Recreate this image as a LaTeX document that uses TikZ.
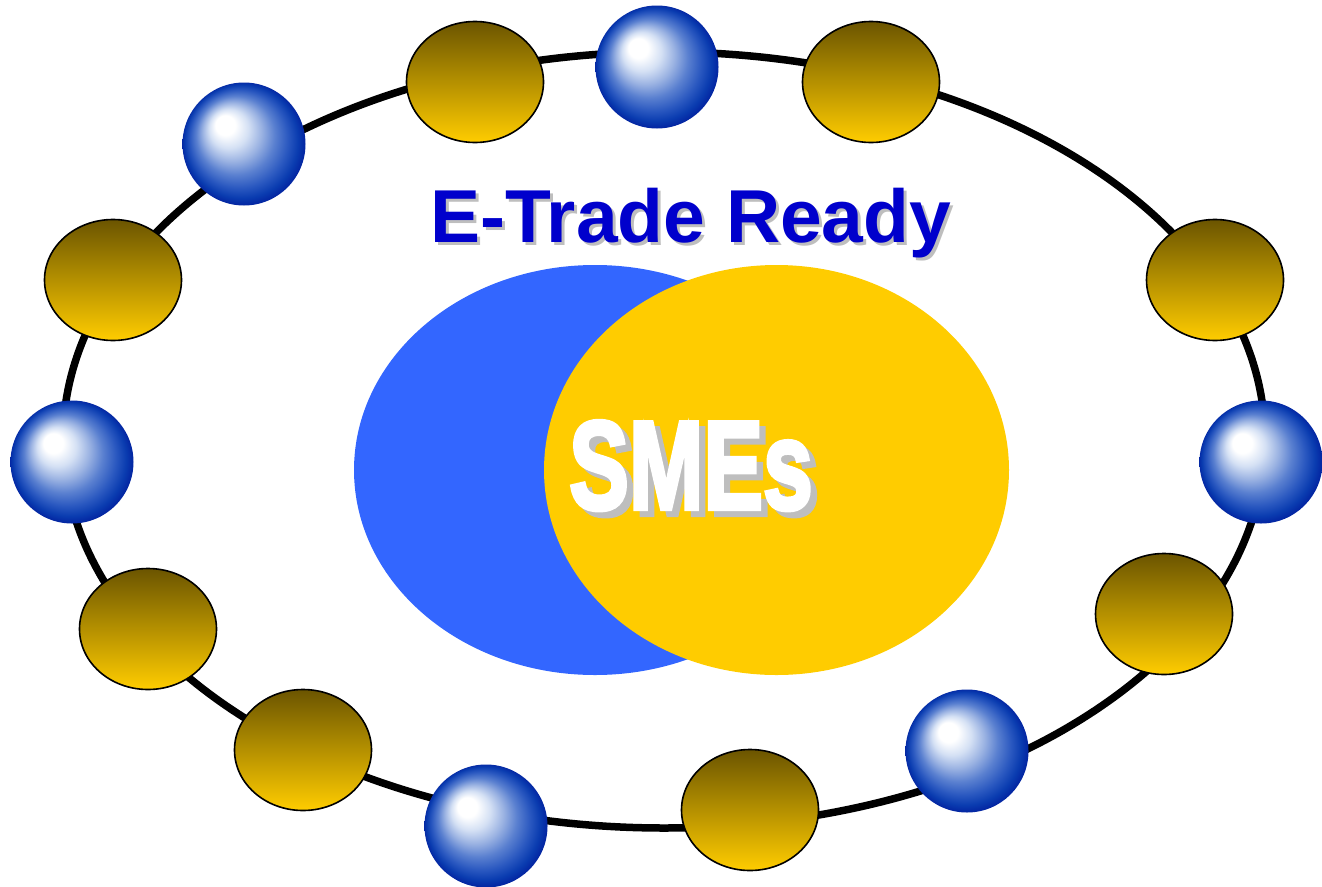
\documentclass[tikz,border=0pt]{standalone}
\usepackage{fontspec}
\usepackage{graphicx}
\setmainfont{Liberation Sans}
\newfontfamily\heavyface{Liberation Sans Bold}[FakeBold=3.5]
\usetikzlibrary{shapes.geometric}

% colours
\definecolor{vennblue}{HTML}{3366FF}
\definecolor{vennyellow}{HTML}{FFCC00}
\definecolor{titleblue}{HTML}{0000CC}
\definecolor{dropgray}{HTML}{BEBEBE}
\definecolor{beadtop}{HTML}{6B5500}
\definecolor{beadbottom}{HTML}{FFCC00}
\definecolor{orbA}{HTML}{D4E0F4}
\definecolor{orbB}{HTML}{9AB2E2}
\definecolor{orbC}{HTML}{5A80D0}
\definecolor{orbD}{HTML}{2A58C0}
\definecolor{orbE}{HTML}{0A3CB0}
\definecolor{orbF}{HTML}{001C9C}

% glossy sphere: circles slide from the highlight (upper left) to the rim
\pgfdeclareradialshading{glassorb}{\pgfpoint{-9bp}{9bp}}{%
  color(0bp)=(white); color(4bp)=(white); color(8bp)=(orbA);
  color(12bp)=(orbB); color(16bp)=(orbC); color(20bp)=(orbD);
  color(23bp)=(orbE); color(26bp)=(orbF)}

% text with a grey drop shadow behind it, as one box: #1 right, #2 down
\newcommand{\dropped}[4]{%
  \makebox[0pt][l]{\hspace*{#1}\raisebox{-#2}{\textcolor{#3}{#4}}}#4}

\tikzset{
  ring/.style={draw=black, line width=7.5pt, ellipse, inner sep=0pt, outer sep=0pt,
               minimum width=1202pt, minimum height=776pt},
  bead/.style={draw=black, line width=1.6pt, ellipse, inner sep=0pt, outer sep=0pt,
               minimum width=137pt, minimum height=121pt,
               top color=beadtop, bottom color=beadbottom},
  orb/.style={circle, inner sep=0pt, outer sep=0pt, minimum size=123pt, shading=glassorb},
  vennset/.style={ellipse, inner sep=0pt, outer sep=0pt, minimum height=410pt},
  titletext/.style={font=\bfseries\fontsize{75}{80}\selectfont, inner sep=0pt,
                    text=titleblue},
  bigtext/.style={font=\heavyface\fontsize{126}{130}\selectfont, inner sep=0pt,
                  text=white},
}

\begin{document}
\begin{tikzpicture}[x=1pt, y=-1pt]
  \useasboundingbox (0,0) rectangle (1322,886);

  % outer ring
  \node[ring] (loop) at (664,440) {};

  % gold beads
  \node[bead] (g1) at (475,82) {};
  \node[bead] (g2) at (871,82) {};
  \node[bead] (g3) at (113,280) {};
  \node[bead] (g4) at (1215,280) {};
  \node[bead] (g5) at (148,629) {};
  \node[bead] (g6) at (1164,614) {};
  \node[bead] (g7) at (303,750) {};
  \node[bead] (g8) at (750,810) {};

  % blue spheres
  \node[orb] (b1) at (244,144) {};
  \node[orb] (b2) at (657,67) {};
  \node[orb] (b3) at (72,462) {};
  \node[orb] (b4) at (1261,462) {};
  \node[orb] (b5) at (967,751) {};
  \node[orb] (b6) at (486,826) {};

  % overlapping sets
  \node[vennset, fill=vennblue, minimum width=482pt] (left) at (595,470) {};
  \node[vennset, fill=vennyellow, minimum width=465pt] (right) at (776.5,470) {};

  % title
  \node[titletext, anchor=base west] (title) at (430,242)
       {\dropped{3pt}{3pt}{dropgray}{E-Trade Ready}};

  % centre label
  \node[bigtext, anchor=base west] (label) at (569,509)
       {\scalebox{0.71}[1]{\dropped{9pt}{6pt}{dropgray}{SMEs}}};
\end{tikzpicture}
\end{document}
